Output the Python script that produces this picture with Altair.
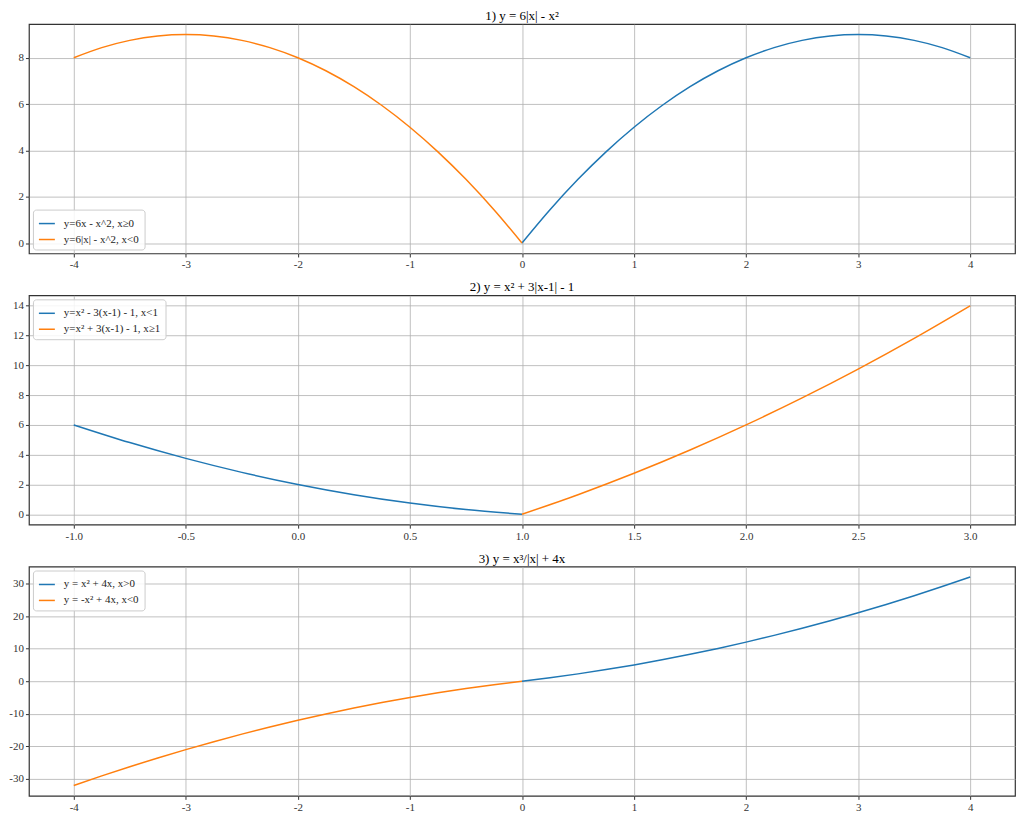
import altair as alt
import pandas as pd

# ---------- data ----------
# Panel 1: y = 6|x| - x^2
p1_x_pos = [0, 0.25, 0.5, 0.75, 1, 1.25, 1.5, 1.75, 2, 2.25, 2.5, 2.75, 3, 3.25, 3.5, 3.75, 4]
p1_y_pos = [0, 1.4375, 2.75, 3.9375, 5, 5.9375, 6.75, 7.4375, 8, 8.4375, 8.75, 8.9375, 9, 8.9375, 8.75, 8.4375, 8]
p1_x_neg = [-4, -3.75, -3.5, -3.25, -3, -2.75, -2.5, -2.25, -2, -1.75, -1.5, -1.25, -1, -0.75, -0.5, -0.25, 0]
p1_y_neg = [8, 8.4375, 8.75, 8.9375, 9, 8.9375, 8.75, 8.4375, 8, 7.4375, 6.75, 5.9375, 5, 3.9375, 2.75, 1.4375, 0]
p1_labels = ["y=6x - x^2, x\u22650", "y=6|x| - x^2, x<0"]

# Panel 2: y = x^2 + 3|x-1| - 1
p2_x_left = [-1, -0.75, -0.5, -0.25, 0, 0.25, 0.5, 0.75, 1]
p2_y_left = [6, 4.8125, 3.75, 2.8125, 2, 1.3125, 0.75, 0.3125, 0]
p2_x_right = [1, 1.25, 1.5, 1.75, 2, 2.25, 2.5, 2.75, 3]
p2_y_right = [0, 1.3125, 2.75, 4.3125, 6, 7.8125, 9.75, 11.8125, 14]
p2_labels = ["y=x\u00b2 - 3(x-1) - 1, x<1", "y=x\u00b2 + 3(x-1) - 1, x\u22651"]

# Panel 3: y = x^3/|x| + 4x
p3_x_pos = [0, 0.25, 0.5, 0.75, 1, 1.25, 1.5, 1.75, 2, 2.25, 2.5, 2.75, 3, 3.25, 3.5, 3.75, 4]
p3_y_pos = [0, 1.0625, 2.25, 3.5625, 5, 6.5625, 8.25, 10.0625, 12, 14.0625, 16.25, 18.5625, 21, 23.5625, 26.25, 29.0625, 32]
p3_x_neg = [-4, -3.75, -3.5, -3.25, -3, -2.75, -2.5, -2.25, -2, -1.75, -1.5, -1.25, -1, -0.75, -0.5, -0.25, 0]
p3_y_neg = [-32, -29.0625, -26.25, -23.5625, -21, -18.5625, -16.25, -14.0625, -12, -10.0625, -8.25, -6.5625, -5, -3.5625, -2.25, -1.0625, 0]
p3_labels = ["y = x\u00b2 + 4x, x>0", "y = -x\u00b2 + 4x, x<0"]

titles = ["1) y = 6|x| - x\u00b2", "2) y = x\u00b2 + 3|x-1| - 1", "3) y = x\u00b3/|x| + 4x"]

x_ticks_a = [-4, -3, -2, -1, 0, 1, 2, 3, 4]
x_ticks_b = [-1.0, -0.5, 0.0, 0.5, 1.0, 1.5, 2.0, 2.5, 3.0]
y_ticks_1 = [0, 2, 4, 6, 8]
y_ticks_2 = [0, 2, 4, 6, 8, 10, 12, 14]
y_ticks_3 = [-30, -20, -10, 0, 10, 20, 30]

COLORS = ["#1f77b4", "#ff7f0e"]
FONT = "Liberation Serif"
W, H = 989, 230


def make_df(xa, ya, xb, yb, labels):
    a = pd.DataFrame({"x": xa, "y": ya, "series": labels[0]})
    b = pd.DataFrame({"x": xb, "y": yb, "series": labels[1]})
    return pd.concat([a, b], ignore_index=True)


def panel(df, title, xdom, ydom, xticks, yticks, xexpr, legend_orient, labels):
    lines = alt.Chart(df).mark_line(strokeWidth=1.5, interpolate="monotone").encode(
        x=alt.X("x:Q",
                scale=alt.Scale(domain=xdom, nice=False, zero=False),
                axis=alt.Axis(values=xticks, labelExpr=xexpr, title=None)),
        y=alt.Y("y:Q",
                scale=alt.Scale(domain=ydom, nice=False, zero=False),
                axis=alt.Axis(values=yticks, labelExpr="toString(datum.value)", title=None)),
        color=alt.Color("series:N",
                        scale=alt.Scale(domain=labels, range=COLORS),
                        legend=alt.Legend(orient=legend_orient, title=None)),
    )
    ttl = alt.Chart(pd.DataFrame({"t": [title]})).mark_text(
        font=FONT, fontSize=13, color="#000000", align="center", baseline="middle"
    ).encode(text="t:N", x=alt.value(W / 2), y=alt.value(-8))
    return alt.layer(lines, ttl).properties(width=W, height=H)


int_expr = "toString(datum.value)"
dec_expr = "replace(format(datum.value, '.1f'), '\u2212', '-')"

c1 = panel(make_df(p1_x_pos, p1_y_pos, p1_x_neg, p1_y_neg, p1_labels), titles[0],
           [-4.4, 4.4], [-0.45, 9.45], x_ticks_a, y_ticks_1, int_expr, "bottom-left", p1_labels)
c2 = panel(make_df(p2_x_left, p2_y_left, p2_x_right, p2_y_right, p2_labels), titles[1],
           [-1.2, 3.2], [-0.7, 14.7], x_ticks_b, y_ticks_2, dec_expr, "top-left", p2_labels)
c3 = panel(make_df(p3_x_pos, p3_y_pos, p3_x_neg, p3_y_neg, p3_labels), titles[2],
           [-4.4, 4.4], [-35.2, 35.2], x_ticks_a, y_ticks_3, int_expr, "top-left", p3_labels)

chart = alt.vconcat(c1, c2, c3, spacing=9).resolve_scale(
    color="independent", x="independent", y="independent"
).properties(
    padding={"left": 0, "top": 0, "right": 0, "bottom": 0}
).configure_view(
    stroke="#333333", strokeWidth=1.2
).configure_axis(
    labelFont=FONT, labelFontSize=11, labelColor="#333333",
    domain=False, ticks=True, tickColor="#333333", tickSize=3.5, labelPadding=2,
    grid=True, gridColor="#b0b0b0", gridWidth=0.8,
).configure_axisY(
    minExtent=19, maxExtent=19
).configure_axisX(
    minExtent=17, maxExtent=17
).configure_legend(
    labelFont=FONT, labelFontSize=11, labelColor="#222222", labelOffset=8,
    symbolType="stroke", symbolStrokeWidth=1.5, symbolSize=256,
    fillColor="rgba(255,255,255,0.85)", strokeColor="#cccccc", cornerRadius=3,
    padding=5, offset=4, rowPadding=2,
)

chart.save("out.html", embed_options={"renderer": "svg", "actions": False})
